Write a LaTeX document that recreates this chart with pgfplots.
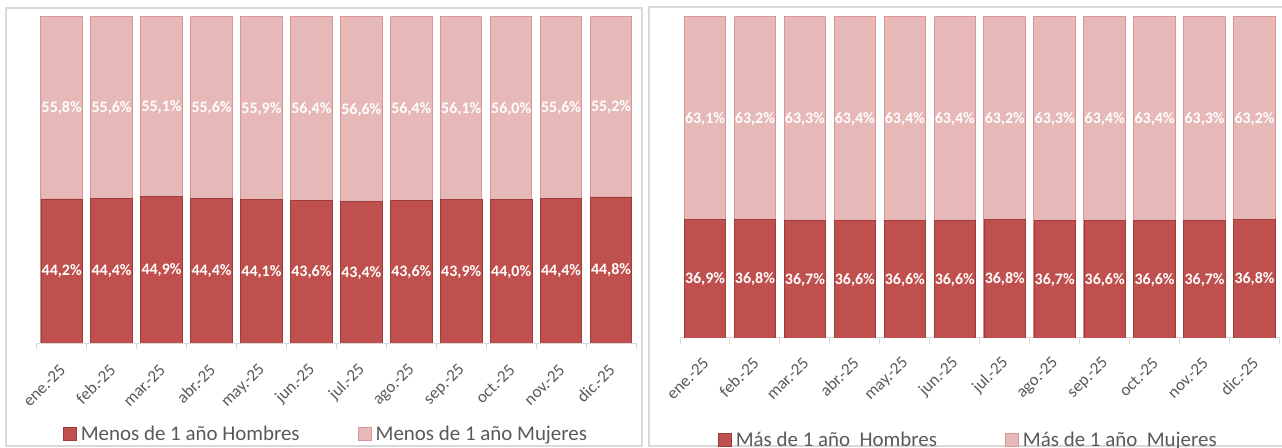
\documentclass[border=0pt]{standalone}
\usepackage{pgfplots}
\usepackage{pgfplotstable}
\pgfplotsset{compat=1.18}
\usepackage{fontspec}
\setmainfont{Carlito}
\definecolor{darkred}{HTML}{C0504D}
\definecolor{darkredline}{HTML}{9A3D3B}
\definecolor{lightred}{HTML}{E6B9B8}
\definecolor{lightredline}{HTML}{D99694}
\definecolor{framegray}{HTML}{D9D9D9}
\definecolor{textgray}{HTML}{595959}

\pgfplotstableread{
x h m
0 44.2 55.8
1 44.4 55.6
2 44.9 55.1
3 44.4 55.6
4 44.1 55.9
5 43.6 56.4
6 43.4 56.6
7 43.6 56.4
8 43.9 56.1
9 44.0 56.0
10 44.4 55.6
11 44.8 55.2
}\menos

\pgfplotstableread{
x h m
0 36.9 63.1
1 36.8 63.2
2 36.7 63.3
3 36.6 63.4
4 36.6 63.4
5 36.6 63.4
6 36.8 63.2
7 36.7 63.3
8 36.6 63.4
9 36.6 63.4
10 36.7 63.3
11 36.8 63.2
}\mas

\pgfplotsset{
  panel/.style={
    scale only axis,
    xmin=-0.5, xmax=11.5, ymin=0, ymax=100,
    axis x line*=bottom, axis y line=none,
    x axis line style={draw=framegray, line width=1bp},
    xtick={0,...,11},
    xticklabels={ene.-25,feb.-25,mar.-25,abr.-25,may.-25,jun.-25,jul.-25,ago.-25,sep.-25,oct.-25,nov.-25,dic.-25},
    major tick length=0pt,
    minor xtick={-0.5,0.5,...,11.5},
    minor tick length=6bp,
    xtick align=outside,
    every tick/.style={draw=framegray, line width=1bp},
    tick label style={font=\fontsize{17}{20}\selectfont},
    legend columns=2,
    legend style={draw=none, fill=none, inner sep=0pt, outer sep=0pt,
      font=\fontsize{21}{21}\selectfont, text=textgray,
      nodes={inner sep=0pt},
      /tikz/every odd column/.append style={column sep=4bp}},
    legend cell align=left,
    legend image code/.code={\draw[##1] (0bp,-6.5bp) rectangle (13bp,6.5bp);},
  },
  darkbar/.style={ybar, bar shift=0pt, bar width=41.5bp, fill=darkred, draw=darkredline, line width=0.8bp},
  lightbar/.style={ybar, bar shift=0pt, bar width=41.5bp, fill=lightred, draw=lightredline, line width=1bp},
  lab/.style={draw=none, mark=none, nodes near coords={\pgfmathprintnumber[fixed,fixed zerofill,precision=1,use comma,assume math mode=true]{\pgfplotspointmeta}\%},
    every node near coord/.append style={anchor=center, text=white, inner sep=0pt,
      font=\fontsize{16}{16}\selectfont\bfseries, text height=10bp, text depth=0pt}},
}

\begin{document}
\begin{tikzpicture}
\path[use as bounding box] (0,0) rectangle (1282bp,448bp);
\draw[framegray, line width=1.5bp] (6bp,2bp) rectangle (642bp,440bp);
\draw[framegray, line width=1.5bp] (649bp,2bp) rectangle (1295bp,441bp);

\begin{axis}[panel, at={(36.7bp,105bp)}, anchor=south west, width=599.3bp, height=326bp,
  xticklabel style={yshift=-24bp, xshift=1bp, rotate=45, anchor=east, inner sep=0pt, text=textgray},
  legend style={at={(0.0439,-0.2791)}, anchor=west,
    /tikz/every even column/.append style={column sep=58bp}}]
\addlegendimage{fill=darkred, draw=darkredline, line width=0.8bp}
\addlegendentry{Menos de 1 año Hombres}
\addlegendimage{fill=lightred, draw=lightredline, line width=1bp}
\addlegendentry{Menos de 1 año Mujeres}
\addplot[lightbar, forget plot] table[x=x, y expr=\thisrow{h}+\thisrow{m}] {\menos};
\addplot[darkbar, forget plot] table[x=x, y=h] {\menos};
\addplot[lab, forget plot, point meta=explicit] table[x=x, y expr=\thisrow{h}/2, meta=h] {\menos};
\addplot[lab, forget plot, point meta=explicit] table[x=x, y expr=\thisrow{h}+\thisrow{m}/2, meta=m] {\menos};
\end{axis}

\begin{axis}[panel, at={(680bp,110bp)}, anchor=south west, width=599.5bp, height=321bp,
  xticklabel style={yshift=-22bp, xshift=1bp, rotate=45, anchor=east, inner sep=0pt, text=textgray},
  legend style={at={(0.0634,-0.3178)}, anchor=west,
    /tikz/every even column/.append style={column sep=68bp}}]
\addlegendimage{fill=darkred, draw=darkredline, line width=0.8bp}
\addlegendentry{Más de 1 año\ \ Hombres}
\addlegendimage{fill=lightred, draw=lightredline, line width=1bp}
\addlegendentry{Más de 1 año\ \ Mujeres}
\addplot[lightbar, forget plot] table[x=x, y expr=\thisrow{h}+\thisrow{m}] {\mas};
\addplot[darkbar, forget plot] table[x=x, y=h] {\mas};
\addplot[lab, forget plot, point meta=explicit] table[x=x, y expr=\thisrow{h}/2, meta=h] {\mas};
\addplot[lab, forget plot, point meta=explicit] table[x=x, y expr=\thisrow{h}+\thisrow{m}/2, meta=m] {\mas};
\end{axis}
\end{tikzpicture}
\end{document}
